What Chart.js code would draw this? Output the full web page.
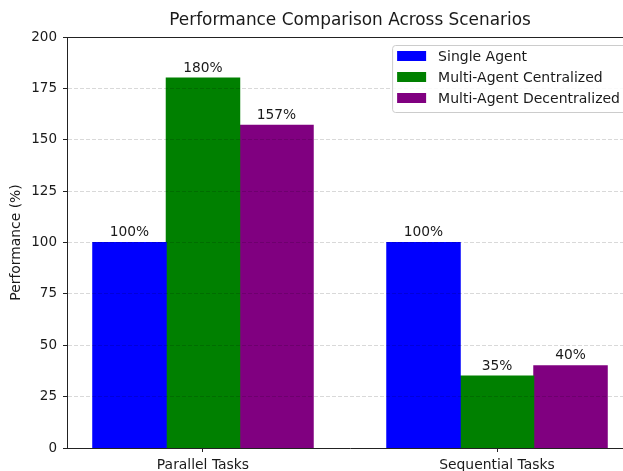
<!DOCTYPE html>
<html><head><meta charset="utf-8">
<script src="https://cdn.jsdelivr.net/npm/chart.js@4.4.0/dist/chart.umd.min.js"></script>
<style>html,body{margin:0;padding:0;overflow:hidden;background:#fff}canvas{display:block}</style>
</head><body>
<canvas id="c" width="660" height="471" style="width:660px;height:471px"></canvas>
<script>
const categories = ['Parallel Tasks', 'Sequential Tasks'];
const seriesNames = ['Single Agent', 'Multi-Agent Centralized', 'Multi-Agent Decentralized'];
const singleAgent = [100, 100];
const multiCentral = [180, 35];
const multiDecentral = [157, 40];
const yTicks = [0, 25, 50, 75, 100, 125, 150, 175, 200];
const seriesColors = ['#0000ff', '#008000', '#800080'];
const chartTitle = 'Performance Comparison Across Scenarios';
const yTitle = 'Performance (%)';

const seriesValues = [singleAgent, multiCentral, multiDecentral];
const groupFrac = 0.75;
const halfSpan = groupFrac / 2;
const span = (categories.length - 1) + groupFrac;
const xMin = -halfSpan - 0.05 * span;
const xMax = (categories.length - 1) + halfSpan + 0.05 * span;
const FONT = '"DejaVu Sans", sans-serif';
const TXT = '#1a1a1a';
const AX = '#222';
const gridCol = 'rgba(0,0,0,0.15)';

const extras = {
  id: 'extras',
  afterDraw(chart) {
    const { ctx, chartArea: a } = chart;
    ctx.save();
    ctx.strokeStyle = AX; ctx.lineWidth = 1;
    ctx.beginPath();
    ctx.moveTo(a.left, a.top + 0.5); ctx.lineTo(a.right, a.top + 0.5);
    ctx.moveTo(a.right - 0.5, a.top); ctx.lineTo(a.right - 0.5, a.bottom);
    ctx.stroke();
    ctx.fillStyle = TXT;
    ctx.font = '16.9px ' + FONT;
    ctx.textAlign = 'center'; ctx.textBaseline = 'middle';
    ctx.fillText(chartTitle, (a.left + a.right) / 2, 21);
    ctx.font = '13.8px ' + FONT;
    ctx.textBaseline = 'bottom';
    chart.data.datasets.forEach((ds, di) => {
      const meta = chart.getDatasetMeta(di);
      meta.data.forEach((bar, i) => {
        ctx.fillText(ds.data[i].y + '%', bar.x, bar.y - 3);
      });
    });
    // legend
    ctx.font = '14px ' + FONT;
    const labels = chart.data.datasets.map(d => d.label);
    const textW = Math.max(...labels.map(l => ctx.measureText(l).width));
    const boxW = 5 + 29 + 12 + textW + 6;
    const right = a.right - 7;
    const left = right - boxW;
    const top = a.top + 8;
    const rowH = 21;
    const boxH = 11 + rowH * (labels.length - 1) + 14;
    ctx.beginPath();
    if (ctx.roundRect) ctx.roundRect(left + 0.5, top + 0.5, boxW, boxH, 3); else ctx.rect(left + 0.5, top + 0.5, boxW, boxH);
    ctx.fillStyle = 'rgba(255,255,255,0.85)'; ctx.fill();
    ctx.strokeStyle = '#cccccc'; ctx.stroke();
    ctx.textAlign = 'left'; ctx.textBaseline = 'middle';
    labels.forEach((l, k) => {
      const cy = top + 11 + k * rowH;
      ctx.fillStyle = chart.data.datasets[k].backgroundColor;
      ctx.fillRect(left + 5, cy - 5, 29, 10);
      ctx.fillStyle = TXT;
      ctx.fillText(l, left + 46, cy + 1);
    });
    ctx.restore();
  }
};

new Chart(document.getElementById('c'), {
  type: 'bar',
  data: {
    datasets: seriesNames.map((name, k) => ({
      label: name,
      data: seriesValues[k].map((v, i) => ({ x: i, y: v })),
      backgroundColor: seriesColors[k],
      borderWidth: 0,
      inflateAmount: 0.5,
      categoryPercentage: groupFrac,
      barPercentage: 1
    }))
  },
  options: {
    responsive: false,
    animation: false,
    layout: { padding: { top: 37, right: 27, left: 0, bottom: 0 } },
    plugins: { legend: { display: false }, title: { display: false }, tooltip: { enabled: false } },
    scales: {
      x: {
        type: 'linear', min: xMin, max: xMax, offset: false,
        afterBuildTicks(s) { s.ticks = categories.map((_, i) => ({ value: i })); },
        ticks: { callback: v => categories[v] ?? '', autoSkip: false, maxRotation: 0, color: TXT, font: { family: FONT, size: 13.9 }, padding: 5 },
        grid: { offset: false, drawOnChartArea: false, drawTicks: true, tickLength: 4, tickColor: AX, tickWidth: 1 },
        border: { display: true, color: AX, width: 1, z: 1 },
        afterFit(s) { s.height = 23; }
      },
      y: {
        min: 0, max: 200,
        afterBuildTicks(s) { s.ticks = yTicks.map(v => ({ value: v })); },
        ticks: { color: TXT, font: { family: FONT, size: 13.5 }, padding: 6 },
        grid: {
          z: 1,
          color: c => (c.tick && (c.tick.value === 0 || c.tick.value === 200)) ? 'rgba(0,0,0,0)' : gridCol,
          tickColor: AX, tickLength: 4, tickWidth: 1, tickBorderDash: []
        },
        border: { display: true, color: AX, width: 1, dash: [4, 2], z: 1 },
        title: { display: true, text: yTitle, color: TXT, font: { family: FONT, size: 13.9 }, padding: { top: 8, bottom: 0 } },
        afterFit(s) { s.width = 67; }
      }
    }
  },
  plugins: [extras]
});
</script>
</body></html>
